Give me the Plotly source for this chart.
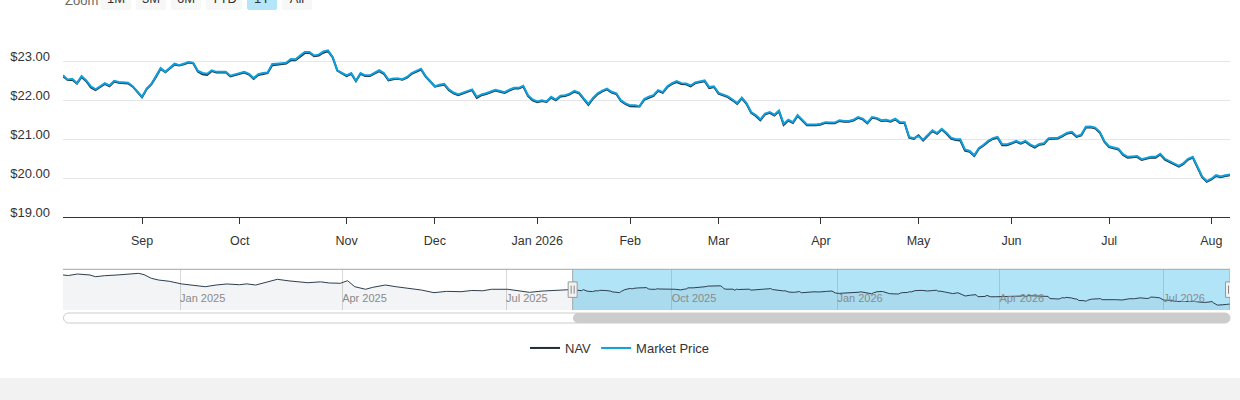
import pandas as pd
import plotly.graph_objects as go

# 화면 크기 (px) — 위치 계산용
W, H = 1240, 400


def px_x(x):
    return x / W


def px_y(y):
    return 1 - y / H


# 휴장일 (ordinal 축 흉내)
HOLIDAYS = ['2025-09-01', '2025-11-27', '2025-12-25', '2026-01-01', '2026-01-19',
            '2026-02-16', '2026-04-03', '2026-05-25', '2026-06-19', '2026-07-03']
START, END = '2025-08-07', '2026-08-07'
DATES = pd.bdate_range(START, END, freq='C', holidays=HOLIDAYS)

MARKET = [
    22.64, 22.53, 22.55, 22.44, 22.62, 22.51, 22.36, 22.28, 22.36, 22.44,
    22.38, 22.50, 22.47, 22.46, 22.45, 22.36, 22.22, 22.09, 22.30, 22.42,
    22.62, 22.83, 22.73, 22.84, 22.94, 22.90, 22.94, 22.98, 22.96, 22.76,
    22.70, 22.68, 22.77, 22.73, 22.73, 22.73, 22.63, 22.66, 22.70, 22.73,
    22.68, 22.57, 22.67, 22.70, 22.71, 22.93, 22.94, 22.95, 22.96, 23.06,
    23.05, 23.15, 23.24, 23.24, 23.15, 23.17, 23.25, 23.28, 23.11, 22.77,
    22.70, 22.64, 22.70, 22.50, 22.70, 22.64, 22.64, 22.71, 22.77, 22.70,
    22.53, 22.56, 22.56, 22.54, 22.60, 22.70, 22.76, 22.81, 22.62, 22.50,
    22.36, 22.40, 22.42, 22.28, 22.20, 22.15, 22.19, 22.24, 22.28, 22.09,
    22.15, 22.18, 22.22, 22.27, 22.24, 22.21, 22.27, 22.32, 22.32, 22.37,
    22.13, 22.02, 21.97, 22.00, 21.97, 22.09, 22.02, 22.12, 22.13, 22.17,
    22.24, 22.20, 22.05, 21.91, 22.06, 22.18, 22.25, 22.30, 22.22, 22.18,
    22.00, 21.92, 21.87, 21.87, 21.85, 22.03, 22.09, 22.13, 22.26, 22.21,
    22.36, 22.44, 22.49, 22.44, 22.43, 22.38, 22.46, 22.49, 22.51, 22.34,
    22.36, 22.19, 22.15, 22.10, 22.02, 21.93, 22.07, 21.93, 21.70, 21.62,
    21.51, 21.66, 21.70, 21.63, 21.74, 21.40, 21.50, 21.44, 21.62, 21.49,
    21.38, 21.38, 21.38, 21.40, 21.44, 21.43, 21.43, 21.49, 21.47, 21.47,
    21.50, 21.57, 21.53, 21.43, 21.57, 21.55, 21.49, 21.50, 21.47, 21.53,
    21.44, 21.44, 21.06, 21.03, 21.08, 20.99, 21.10, 21.23, 21.16, 21.27,
    21.17, 21.04, 21.00, 21.00, 20.74, 20.70, 20.59, 20.78, 20.86, 20.96,
    21.03, 21.06, 20.87, 20.87, 20.91, 20.96, 20.91, 20.96, 20.87, 20.81,
    20.88, 20.90, 21.03, 21.03, 21.04, 21.10, 21.17, 21.19, 21.08, 21.12,
    21.32, 21.33, 21.30, 21.19, 20.95, 20.82, 20.79, 20.76, 20.62, 20.55,
    20.56, 20.57, 20.49, 20.53, 20.55, 20.55, 20.63, 20.50, 20.44, 20.38,
    20.32, 20.39, 20.50, 20.55, 20.29, 20.05, 19.93, 19.99, 20.08, 20.05,
    20.08, 20.10,
]

NAV = [
    22.62, 22.52, 22.53, 22.43, 22.60, 22.49, 22.33, 22.26, 22.34, 22.42,
    22.36, 22.48, 22.45, 22.44, 22.43, 22.35, 22.21, 22.08, 22.29, 22.41,
    22.60, 22.81, 22.72, 22.82, 22.92, 22.89, 22.92, 22.97, 22.95, 22.74,
    22.67, 22.65, 22.75, 22.71, 22.71, 22.72, 22.61, 22.64, 22.68, 22.71,
    22.66, 22.55, 22.65, 22.68, 22.70, 22.90, 22.91, 22.93, 22.94, 23.03,
    23.03, 23.12, 23.21, 23.22, 23.13, 23.15, 23.22, 23.26, 23.10, 22.76,
    22.68, 22.62, 22.68, 22.49, 22.68, 22.62, 22.62, 22.69, 22.75, 22.68,
    22.51, 22.54, 22.55, 22.53, 22.58, 22.68, 22.74, 22.79, 22.61, 22.49,
    22.35, 22.38, 22.40, 22.26, 22.18, 22.13, 22.17, 22.22, 22.26, 22.06,
    22.13, 22.16, 22.20, 22.25, 22.22, 22.19, 22.25, 22.30, 22.30, 22.35,
    22.11, 22.00, 21.95, 21.98, 21.96, 22.07, 22.00, 22.10, 22.11, 22.15,
    22.22, 22.18, 22.03, 21.88, 22.04, 22.16, 22.23, 22.28, 22.20, 22.16,
    21.98, 21.90, 21.85, 21.85, 21.84, 22.01, 22.07, 22.11, 22.24, 22.19,
    22.34, 22.42, 22.47, 22.42, 22.41, 22.36, 22.44, 22.47, 22.49, 22.31,
    22.34, 22.17, 22.13, 22.08, 22.00, 21.91, 22.05, 21.91, 21.68, 21.60,
    21.49, 21.64, 21.68, 21.61, 21.72, 21.37, 21.48, 21.42, 21.60, 21.47,
    21.36, 21.36, 21.36, 21.38, 21.42, 21.41, 21.41, 21.47, 21.45, 21.45,
    21.48, 21.55, 21.51, 21.41, 21.55, 21.53, 21.47, 21.48, 21.45, 21.51,
    21.42, 21.42, 21.04, 21.01, 21.10, 20.97, 21.08, 21.21, 21.14, 21.25,
    21.15, 21.02, 20.98, 20.97, 20.71, 20.68, 20.57, 20.76, 20.84, 20.94,
    21.01, 21.04, 20.85, 20.85, 20.89, 20.94, 20.89, 20.94, 20.85, 20.79,
    20.86, 20.88, 21.01, 21.01, 21.02, 21.08, 21.15, 21.17, 21.06, 21.10,
    21.30, 21.31, 21.28, 21.17, 20.93, 20.80, 20.77, 20.74, 20.60, 20.53,
    20.54, 20.55, 20.47, 20.51, 20.53, 20.53, 20.61, 20.48, 20.42, 20.36,
    20.30, 20.37, 20.48, 20.53, 20.27, 20.03, 19.91, 19.97, 20.06, 20.03,
    20.06, 20.08,
]

# 내비게이터용 과거 NAV (1Y 이전 구간)
HIST_DATES = [
    '2024-10-28', '2024-10-31', '2024-11-05', '2024-11-08', '2024-11-12', '2024-11-15',
    '2024-11-20', '2024-11-27', '2024-12-03', '2024-12-09', '2024-12-12', '2024-12-16',
    '2024-12-20', '2024-12-26', '2025-01-02', '2025-01-08', '2025-01-15', '2025-01-21',
    '2025-01-27', '2025-02-03', '2025-02-07', '2025-02-12', '2025-02-18', '2025-02-24',
    '2025-03-03', '2025-03-07', '2025-03-13', '2025-03-20', '2025-03-25', '2025-03-31',
    '2025-04-04', '2025-04-08', '2025-04-14', '2025-04-18', '2025-04-25', '2025-05-01',
    '2025-05-08', '2025-05-15', '2025-05-22', '2025-05-29', '2025-06-06', '2025-06-12',
    '2025-06-18', '2025-06-23', '2025-07-02', '2025-07-08', '2025-07-14', '2025-07-21',
    '2025-07-28', '2025-08-04',
]
HIST_NAV = [
    25.14, 25.05, 25.31, 25.20, 25.14, 24.84,
    25.02, 25.14, 25.25, 25.43, 25.20, 24.57,
    24.27, 24.05, 23.58, 23.35, 23.11, 23.40,
    23.58, 23.45, 23.60, 23.40, 23.85, 24.39,
    24.10, 23.95, 23.80, 23.95, 23.75, 23.70,
    24.15, 23.11, 22.66, 23.00, 23.40, 23.10,
    22.85, 22.53, 22.07, 22.30, 22.24, 22.45,
    22.40, 22.66, 22.66, 22.40, 22.13, 22.35,
    22.45, 22.66,
]
NAV_Y_RANGE = [19.06, 26.13]

Y_TICKS = [19, 20, 21, 22, 23, 24]
Y_LABELS = ['$19.00', '$20.00', '$21.00', '$22.00', '$23.00', '']
MONTH_LABELS = ['Sep', 'Oct', 'Nov', 'Dec', 'Jan 2026', 'Feb', 'Mar', 'Apr',
                'May', 'Jun', 'Jul', 'Aug']

# 각 달의 첫 거래일에 눈금
s = pd.Series(DATES, index=DATES)
month_first = s.groupby(s.dt.to_period('M')).first().iloc[1:]

NAV_COLOR = '#1f2d3b'
MKT_COLOR = '#0ea0dc'
FONT = 'Liberation Sans, Arial, sans-serif'

fig = go.Figure()

fig.add_trace(go.Scatter(x=DATES, y=NAV, mode='lines', name='NAV',
                         line=dict(color=NAV_COLOR, width=2), xaxis='x', yaxis='y'))
fig.add_trace(go.Scatter(x=DATES, y=MARKET, mode='lines', name='Market Price',
                         line=dict(color=MKT_COLOR, width=2), xaxis='x', yaxis='y'))

# 내비게이터
nav_x = list(pd.to_datetime(HIST_DATES)) + list(DATES)
nav_y = HIST_NAV + NAV
fig.add_trace(go.Scatter(x=nav_x, y=nav_y, mode='lines', showlegend=False,
                         line=dict(color='#2c3e50', width=1),
                         fill='tozeroy', fillcolor='rgba(44,62,80,0.06)',
                         xaxis='x2', yaxis='y2', hoverinfo='skip'))


def pill(x0, x1, y0, y1):
    r = (y1 - y0) / 2
    k = 0.552 * r
    ym = (y0 + y1) / 2
    P = lambda x, y: f'{px_x(x):.5f},{px_y(y):.5f}'
    return (f'M{P(x0 + r, y0)} L{P(x1 - r, y0)} '
            f'C{P(x1 - r + k, y0)} {P(x1, ym - k)} {P(x1, ym)} '
            f'C{P(x1, ym + k)} {P(x1 - r + k, y1)} {P(x1 - r, y1)} '
            f'L{P(x0 + r, y1)} '
            f'C{P(x0 + r - k, y1)} {P(x0, ym + k)} {P(x0, ym)} '
            f'C{P(x0, ym - k)} {P(x0 + r - k, y0)} {P(x0 + r, y0)} Z')


shapes = [
    # 하단 회색 띠
    dict(type='rect', xref='paper', yref='paper', x0=0, x1=1, y0=0, y1=px_y(378),
         fillcolor='#f2f2f2', line=dict(width=0), layer='below'),
    # 선택 구간 마스크
    dict(type='rect', xref='x2', yref='y2', x0=START, x1=END,
         y0=NAV_Y_RANGE[0], y1=NAV_Y_RANGE[1],
         fillcolor='rgba(0,166,228,0.3)', line=dict(width=0), layer='between'),
    # 내비게이터 윤곽
    dict(type='line', xref='x2 domain', yref='y2 domain', x0=0, x1=1, y0=1, y1=1,
         line=dict(color='#a6a6a6', width=1)),
    dict(type='line', xref='x2', yref='y2 domain', x0=START, x1=START, y0=0, y1=1,
         line=dict(color='#a6a6a6', width=1)),
    dict(type='line', xref='x2', yref='y2 domain', x0=END, x1=END, y0=0, y1=1,
         line=dict(color='#a6a6a6', width=1)),
    # 스크롤바
    dict(type='path', xref='paper', yref='paper', path=pill(63.5, 1230, 313, 323),
         fillcolor='white', line=dict(color='#cccccc', width=1)),
    dict(type='path', xref='paper', yref='paper', path=pill(573, 1230, 313, 323),
         fillcolor='#cccccc', line=dict(width=0)),
]
# 핸들
for d in (START, END):
    shapes.append(dict(type='rect', xref='x2', xsizemode='pixel', xanchor=d, x0=-4.5, x1=4.5,
                       yref='y2 domain', y0=0.31, y1=0.69,
                       fillcolor='#f2f2f2', line=dict(color='#999999', width=1)))
    for off in (-1.5, 1.5):
        shapes.append(dict(type='line', xref='x2', xsizemode='pixel', xanchor=d, x0=off, x1=off,
                           yref='y2 domain', y0=0.4, y1=0.6,
                           line=dict(color='#888888', width=1)))

x_dom = [px_x(63), px_x(1230)]

fig.update_layout(
    width=W, height=H,
    margin=dict(l=0, r=0, t=0, b=0, autoexpand=False),
    template='none',
    paper_bgcolor='white', plot_bgcolor='rgba(0,0,0,0)',
    font=dict(family=FONT, color='#333333', size=13),
    hovermode='x unified',
    xaxis=dict(
        domain=x_dom, anchor='y', type='date', range=[START, END],
        rangebreaks=[dict(bounds=['sat', 'mon']), dict(values=HOLIDAYS)],
        tickvals=list(month_first.values), ticktext=MONTH_LABELS,
        ticks='outside', ticklen=6, tickcolor='#333333',
        ticklabelstandoff=6,
        showline=True, linecolor='#333333', linewidth=1,
        showgrid=False, zeroline=False, automargin=False,
        tickfont=dict(size=12.5, color='#333333'),
        rangeselector=dict(
            buttons=[
                dict(count=1, label='1M', step='month', stepmode='backward'),
                dict(count=3, label='3M', step='month', stepmode='backward'),
                dict(count=6, label='6M', step='month', stepmode='backward'),
                dict(count=1, label='YTD', step='year', stepmode='todate'),
                dict(count=1, label='1Y', step='year', stepmode='backward'),
                dict(label='All', step='all'),
            ],
            x=px_x(101), xanchor='left', y=px_y(10), yanchor='bottom',
            bgcolor='#f7f7f7', activecolor='#b5e5f8', borderwidth=0,
            font=dict(size=13, color='#333333')),
    ),
    yaxis=dict(
        domain=[px_y(217.3), px_y(22.3)], anchor='x', range=[19, 24],
        tickvals=Y_TICKS, ticktext=Y_LABELS,
        showgrid=True, gridcolor='#e6e6e6', gridwidth=1,
        zeroline=False, showline=False, ticks='',
        ticklabelstandoff=12, ticklabelshift=-5, automargin=False,
        tickfont=dict(size=13, color='#333333'),
    ),
    xaxis2=dict(
        domain=x_dom, anchor='y2', type='date', range=['2024-10-28', END],
        dtick='M3', tick0='2025-01-01', tickformat='%b %Y',
        ticklabelposition='inside right', ticks='',
        showgrid=True, gridcolor='#d9d9d9', zeroline=False, showline=False,
        automargin=False, tickfont=dict(size=11, color='#8a8a8a'),
    ),
    yaxis2=dict(
        domain=[px_y(310), px_y(269.3)], anchor='x2', range=NAV_Y_RANGE,
        showgrid=False, zeroline=False, showticklabels=False, ticks='',
        automargin=False,
    ),
    legend=dict(orientation='h', x=0.5, xanchor='center', y=px_y(348), yanchor='middle',
                font=dict(size=13, color='#333333'), bgcolor='rgba(0,0,0,0)'),
    shapes=shapes,
    annotations=[dict(text='Zoom', xref='paper', yref='paper', x=px_x(63), xanchor='left',
                      y=px_y(1), yanchor='middle', showarrow=False,
                      font=dict(size=13, color='#666666'))],
)

fig.write_html('out.html', config={'displayModeBar': False},
               post_script="document.body.style.margin='0';document.body.style.overflow='hidden';")
